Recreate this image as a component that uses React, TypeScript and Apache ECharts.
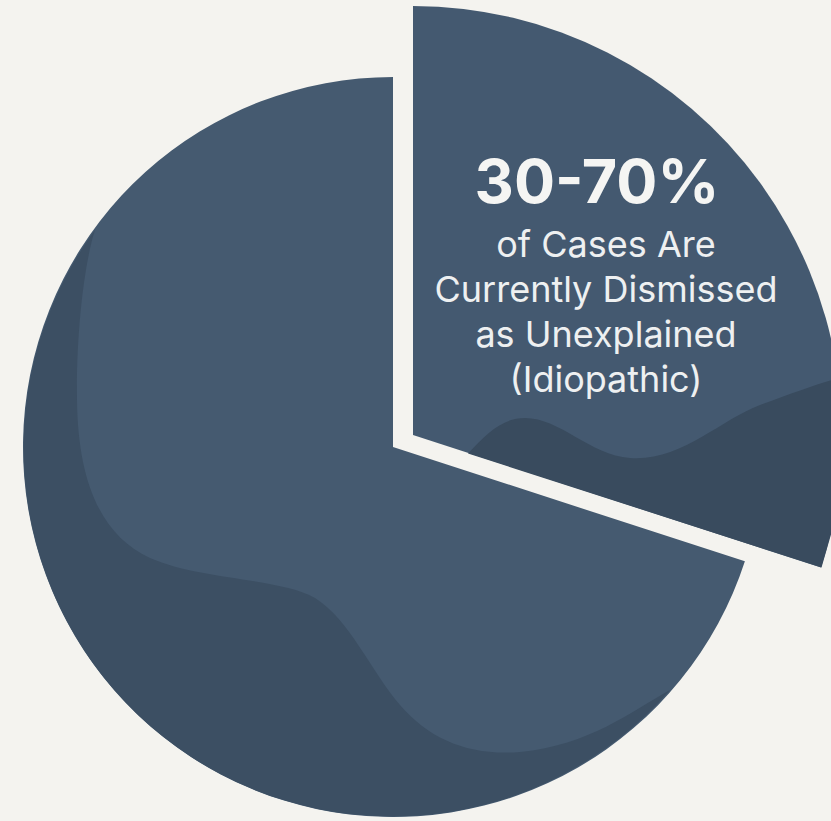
import React, { useEffect, useRef } from 'react';
import * as echarts from 'echarts';

// ---- data ----
const categories = ['Dismissed as unexplained (idiopathic)', 'Other cases'];
const values = [30, 70];
const headline = '30-70%';
const subLines = ['of Cases Are', 'Currently Dismissed', 'as Unexplained', '(Idiopathic)'];

// ---- decorative shading paths (not data) ----
const MAIN_SHADE =
  'M95 230 A368.5 368.5 0 0 0 670 690 C630 712 590 745 520 752 C470 756 430 740 400 705 ' +
  'C370 670 350 620 315 598 C280 578 200 580 150 558 C100 535 78 480 77 400 C76 330 85 260 95 230 Z';
const SLICE_SHADE =
  'M468 453.5 C488 432 503 418 525 418 C560 418 590 455 630 458 C680 462 720 420 760 405 ' +
  'C790 394 815 385 832 380 L832 531 L821.5 567.5 Z';

let registered = false;
function registerShapes() {
  if (registered) return;
  registered = true;
  echarts.graphic.registerShape('mainShade', echarts.graphic.extendPath(MAIN_SHADE, {}) as any);
  echarts.graphic.registerShape('sliceShade', echarts.graphic.extendPath(SLICE_SHADE, {}) as any);
}

const MAIN_COLOR = '#455a70';
const SLICE_COLOR = '#445970';
const BG = '#f4f3ef';

export default function App() {
  const ref = useRef<HTMLDivElement>(null);

  useEffect(() => {
    document.body.style.margin = '0';
    document.body.style.background = BG;
    registerShapes();
    const chart = echarts.init(ref.current!, null, { renderer: 'svg' });
    const transparent = 'rgba(0,0,0,0)';

    const mainData = values.map((v, i) => ({
      name: categories[i],
      value: v,
      itemStyle: { color: i === 1 ? MAIN_COLOR : transparent },
    }));
    const sliceData = values.map((v, i) => ({
      name: categories[i],
      value: v,
      itemStyle: { color: i === 0 ? SLICE_COLOR : transparent },
    }));

    const texts: any[] = [
      {
        type: 'text',
        x: 597,
        y: 181,
        z: 10,
        silent: true,
        style: {
          text: headline,
          font: 'bold 61px Inter',
          fill: '#f5f5f3',
          textAlign: 'center',
          textVerticalAlign: 'middle',
        },
      },
      ...subLines.map((t, i) => ({
        type: 'text',
        x: 606,
        y: 244 + i * 45,
        z: 10,
        silent: true,
        style: {
          text: t,
          font: '36px Inter',
          fill: '#eef0f1',
          textAlign: 'center',
          textVerticalAlign: 'middle',
        },
      })),
    ];

    chart.setOption({
      animation: false,
      backgroundColor: BG,
      tooltip: { show: false },
      series: [
        {
          type: 'pie',
          center: [393, 447],
          radius: 370,
          startAngle: 90,
          clockwise: true,
          silent: true,
          label: { show: false },
          labelLine: { show: false },
          data: mainData,
          z: 2,
        },
        {
          type: 'pie',
          center: [413, 435],
          radius: 429,
          startAngle: 90,
          clockwise: true,
          silent: true,
          label: { show: false },
          labelLine: { show: false },
          data: sliceData,
          z: 2,
        },
      ],
      graphic: [
        { type: 'mainShade', x: 0, y: 0, z: 5, silent: true, style: { fill: '#3c4f63' } },
        { type: 'sliceShade', x: 0, y: 0, z: 5, silent: true, style: { fill: '#394b5e' } },
        ...texts,
      ],
    });

    return () => chart.dispose();
  }, []);

  return <div ref={ref} style={{ width: 831, height: 821, background: BG }} />;
}
